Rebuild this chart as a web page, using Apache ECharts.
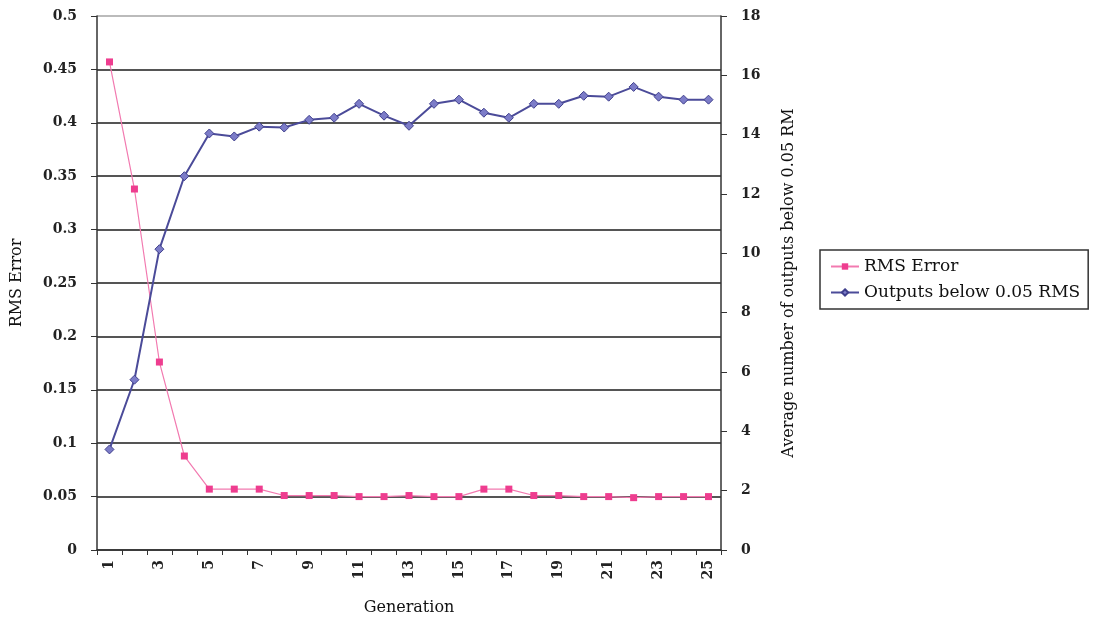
<!DOCTYPE html>
<html><head><meta charset="utf-8">
<script src="https://cdn.jsdelivr.net/npm/echarts@6/dist/echarts.min.js"></script>
<style>html,body{margin:0;padding:0;background:#fff}#c{width:1094px;height:621px}</style>
</head><body><div id="c"></div>
<script>
const generations = ['1','2','3','4','5','6','7','8','9','10','11','12','13','14','15','16','17','18','19','20','21','22','23','24','25'];
const rmsError = [0.457,0.338,0.176,0.088,0.057,0.057,0.057,0.051,0.051,0.051,0.050,0.050,0.051,0.050,0.050,0.057,0.057,0.051,0.051,0.050,0.050,0.049,0.050,0.050,0.050];
const outputsBelow = [3.39,5.74,10.14,12.6,14.04,13.94,14.27,14.24,14.5,14.57,15.04,14.64,14.3,15.04,15.18,14.74,14.57,15.04,15.04,15.31,15.28,15.61,15.28,15.18,15.18];
const leftTicks = {min:0,max:0.5,interval:0.05};
const rightTicks = {min:0,max:18,interval:2};

const font = '"DejaVu Serif","Liberation Serif",serif';
const chart = echarts.init(document.getElementById('c'));
const gridColors = ['#555','#555','#555','#555','#555','#555','#555','#555','#555','#555','#bbb'];
const tickText = {fontFamily:font,fontSize:14,fontWeight:'bold',color:'#222'};
const nameText = {fontFamily:font,fontSize:16,color:'#111'};
chart.setOption({
  animation:false,
  textStyle:{fontFamily:font},
  grid:{left:97,right:373,top:16,bottom:69},
  legend:{
    left:820, top:250, orient:'vertical',
    borderColor:'#333', borderWidth:1.5, padding:[8,8,8,10],
    itemWidth:28, itemHeight:8, itemGap:9,
    textStyle:{fontFamily:font, fontSize:17, color:'#111'},
    data:['RMS Error','Outputs below 0.05 RMS']
  },
  xAxis:{
    type:'category', data:generations, boundaryGap:true,
    name:'Generation', nameLocation:'middle', nameGap:50,
    nameTextStyle:nameText,
    axisLine:{lineStyle:{color:'#333',width:1.5}},
    axisTick:{show:true,interval:0,length:5,lineStyle:{color:'#333'}},
    axisLabel:Object.assign({interval:1,rotate:90,margin:10},tickText)
  },
  yAxis:[{
    type:'value', min:leftTicks.min, max:leftTicks.max, interval:leftTicks.interval,
    name:'RMS Error', nameLocation:'middle', nameGap:72, nameRotate:90,
    nameTextStyle:nameText,
    axisLine:{show:true,lineStyle:{color:'#333',width:1.5}},
    axisTick:{show:true,length:6,lineStyle:{color:'#333'}},
    axisLabel:Object.assign({margin:20},tickText),
    splitLine:{show:true,lineStyle:{color:gridColors,width:2}}
  },{
    type:'value', position:'right', min:rightTicks.min, max:rightTicks.max, interval:rightTicks.interval,
    name:'Average number of outputs below 0.05 RM', nameLocation:'middle', nameGap:60, nameRotate:90,
    nameTextStyle:nameText,
    axisLine:{show:true,lineStyle:{color:'#333',width:1.5}},
    axisTick:{show:true,length:6,lineStyle:{color:'#333'}},
    axisLabel:Object.assign({margin:20},tickText),
    splitLine:{show:false}
  }],
  series:[{
    name:'RMS Error', type:'line', yAxisIndex:0, data:rmsError,
    symbol:'rect', symbolSize:7,
    lineStyle:{color:'#f27ab0',width:1.2},
    itemStyle:{color:'#ee3d8f'}
  },{
    name:'Outputs below 0.05 RMS', type:'line', yAxisIndex:1, data:outputsBelow,
    symbol:'diamond', symbolSize:9,
    lineStyle:{color:'#4b4b99',width:2},
    itemStyle:{color:'#7c7cc8',borderColor:'#3f3f8c',borderWidth:1}
  }]
});
</script></body></html>
